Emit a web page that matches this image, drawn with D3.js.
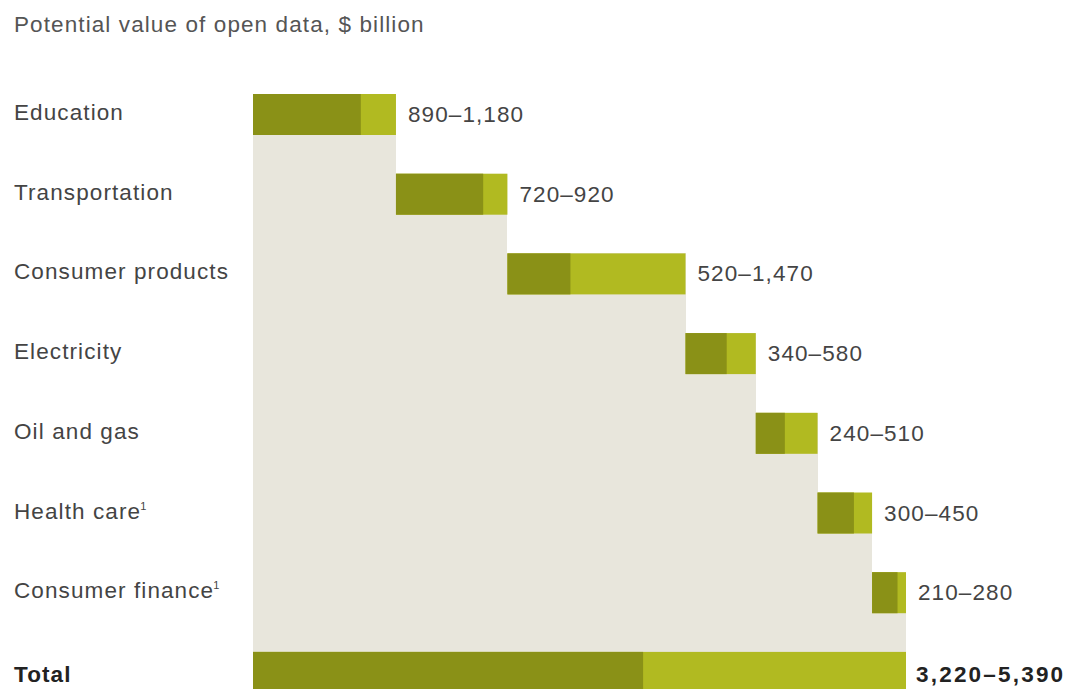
<!DOCTYPE html>
<html>
<head>
<meta charset="utf-8">
<script src="https://cdn.jsdelivr.net/npm/d3@7"></script>
<style>
  body { margin: 0; background: #fff; }
  svg text { font-family: "Liberation Sans", Arial, sans-serif; letter-spacing: 1.1px; }
</style>
</head>
<body>
<div id="svg-container"></div>
<script>
// data
const categories = ["Education", "Transportation", "Consumer products", "Electricity", "Oil and gas", "Health care", "Consumer finance"];
const footnotes = ["", "", "", "", "", "1", "1"];
const lowValues = [890, 720, 520, 340, 240, 300, 210];
const highValues = [1180, 920, 1470, 580, 510, 450, 280];
const totalLabel = "Total";
const totalLow = 3220;
const totalHigh = 5390;

const width = 1071;
const height = 689;

const svg = d3.select("#svg-container").append("svg")
  .attr("width", width)
  .attr("height", height);

const fmt = d3.format(",");
const darkColor = "#8a9117";
const lightColor = "#b1ba21";
const beige = "#e8e6dc";
const textColor = "#444";
const fontSize = 22.5;

// rows (waterfall: each step starts where previous high ended)
let cum = 0;
const rows = categories.map((c, i) => {
  const r = { name: c, note: footnotes[i], start: cum, low: lowValues[i], high: highValues[i] };
  cum += highValues[i];
  return r;
});

// scales
const step = 79.7;
const barH = 41;
const xScale = d3.scaleLinear().domain([0, totalHigh]).range([253, 906]);
const yScale = d3.scaleBand()
  .domain([...categories, totalLabel])
  .range([94, 94 + 7 * step + barH])
  .paddingInner(1 - barH / step)
  .paddingOuter(0);

const bh = yScale.bandwidth();
const totalTop = yScale(totalLabel);

// title
svg.append("text")
  .attr("x", 14)
  .attr("y", 32)
  .attr("font-size", fontSize)
  .attr("fill", "#555")
  .text("Potential value of open data, $ billion");

// beige staircase
svg.append("g")
  .attr("shape-rendering", "crispEdges")
  .selectAll("rect")
  .data(rows)
  .join("rect")
  .attr("x", (d) => xScale(d.start))
  .attr("width", (d) => xScale(d.start + d.high) - xScale(d.start))
  .attr("y", (d) => yScale(d.name))
  .attr("height", (d) => totalTop - yScale(d.name))
  .attr("fill", beige);

// high (light) bars
svg.append("g").selectAll("rect")
  .data(rows)
  .join("rect")
  .attr("x", (d) => xScale(d.start))
  .attr("width", (d) => xScale(d.start + d.high) - xScale(d.start))
  .attr("y", (d) => yScale(d.name))
  .attr("height", bh)
  .attr("fill", lightColor);

// low (dark) bars
svg.append("g").selectAll("rect")
  .data(rows)
  .join("rect")
  .attr("x", (d) => xScale(d.start))
  .attr("width", (d) => xScale(d.start + d.low) - xScale(d.start))
  .attr("y", (d) => yScale(d.name))
  .attr("height", bh)
  .attr("fill", darkColor);

// total bar
svg.append("rect")
  .attr("x", xScale(0))
  .attr("width", xScale(totalHigh) - xScale(0))
  .attr("y", totalTop)
  .attr("height", bh)
  .attr("fill", lightColor);
svg.append("rect")
  .attr("x", xScale(0))
  .attr("width", xScale(totalLow) - xScale(0))
  .attr("y", totalTop)
  .attr("height", bh)
  .attr("fill", darkColor);

// category labels
const catLabels = svg.append("g").selectAll("text")
  .data(rows)
  .join("text")
  .attr("x", 14)
  .attr("y", (d) => yScale(d.name) + 26)
  .attr("font-size", fontSize)
  .attr("fill", textColor)
  .text((d) => d.name);
catLabels.filter((d) => d.note)
  .append("tspan")
  .attr("dx", -1)
  .attr("dy", -9)
  .attr("font-size", 11)
  .style("letter-spacing", "0px")
  .text((d) => d.note);

svg.append("text")
  .attr("x", 14)
  .attr("y", totalTop + 30)
  .attr("font-size", fontSize)
  .attr("font-weight", "bold")
  .style("letter-spacing", "1.1px")
  .attr("fill", "#222")
  .text(totalLabel);

// value labels
svg.append("g").selectAll("text")
  .data(rows)
  .join("text")
  .attr("x", (d) => xScale(d.start + d.high) + 12)
  .attr("y", (d) => yScale(d.name) + 28)
  .attr("font-size", fontSize)
  .attr("fill", textColor)
  .text((d) => `${fmt(d.low)}–${fmt(d.high)}`);

svg.append("text")
  .attr("x", xScale(totalHigh) + 10)
  .attr("y", totalTop + 30)
  .attr("font-size", fontSize)
  .attr("font-weight", "bold")
  .style("letter-spacing", "2.2px")
  .attr("fill", "#222")
  .text(`${fmt(totalLow)}–${fmt(totalHigh)}`);
</script>
</body>
</html>
